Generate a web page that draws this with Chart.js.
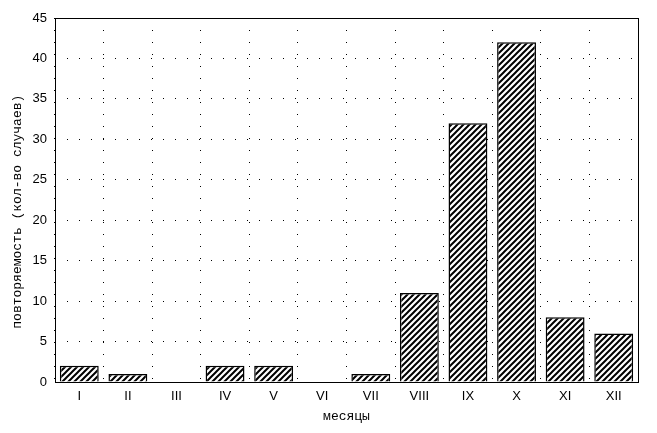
<!DOCTYPE html>
<html>
<head>
<meta charset="utf-8">
<script src="https://cdn.jsdelivr.net/npm/chart.js@4/dist/chart.umd.min.js"></script>
<style>
  html, body { margin: 0; padding: 0; background: #fff; }
  #wrap { width: 657px; height: 433px; }
</style>
</head>
<body>
<div id="wrap"><canvas id="myChart"></canvas></div>
<script>
// months (roman numerals) and number of cases
var months = ['I','II','III','IV','V','VI','VII','VIII','IX','X','XI','XII']
var cases = [2, 1, 0, 2, 2, 0, 1, 11, 32, 42, 8, 6]
var yTicks = [0, 5, 10, 15, 20, 25, 30, 35, 40, 45]
var xTitle = 'месяцы'
// trailing spaces push the rotated text a bit lower, as in the picture
var yTitle = 'повторяемость (кол-во случаев)   '

// diagonal hatch fill like the old statistica bars
function hatch(){
    var c = document.createElement('canvas')
    c.width = 6
    c.height = 6
    var g = c.getContext('2d')
    g.fillStyle = '#fff'
    g.fillRect(0, 0, 6, 6)
    g.strokeStyle = '#000'
    g.lineWidth = 2
    g.beginPath()
    g.moveTo(-1, 7); g.lineTo(7, -1)
    g.moveTo(-4, 4); g.lineTo(4, -4)
    g.moveTo(2, 10); g.lineTo(10, 2)
    g.stroke()
    return g.createPattern(c, 'repeat')
}

// frame round the plot area
var frame = {
    id: 'frame',
    afterDraw(chart){
        var a = chart.chartArea
        var ctx = chart.ctx
        ctx.save()
        ctx.strokeStyle = '#000'
        ctx.lineWidth = 1
        ctx.strokeRect(Math.round(a.left) + 0.5, Math.round(a.top) + 0.5, Math.round(a.right - a.left), Math.round(a.bottom - a.top))
        ctx.restore()
    }
}

var tickFont = { family: "'Liberation Sans Narrow', 'Liberation Sans', Arial", size: 13 }
var titleFont = { family: "'Liberation Mono', 'DejaVu Sans Mono', monospace", size: 13 }

var ctx = document.getElementById('myChart')
var myChart = new Chart(ctx, {
    type: 'bar',
    data: {
        labels: months,
        datasets: [{
            data: cases,
            backgroundColor: hatch(),
            borderColor: '#000',
            borderWidth: 1.5,
            categoryPercentage: 1,
            barPercentage: 0.8
        }]
    },
    options: {
        responsive: true,
        maintainAspectRatio: false,
        animation: false,
        layout: { padding: { top: 18, right: 19, left: 0, bottom: 0 } },
        plugins: {
            legend: { display: false },
            tooltip: { enabled: false }
        },
        scales: {
            x: {
                afterFit: function(s){ s.height = 51 },
                grid: { color: '#000', lineWidth: 1, drawTicks: false, offset: true },
                border: { display: false, dash: [1, 11] },
                ticks: { color: '#000', font: tickFont, padding: 7 },
                title: { display: true, text: xTitle, color: '#000', font: titleFont, padding: { top: 0, bottom: 9 } }
            },
            y: {
                min: 0,
                max: 45,
                afterFit: function(s){ s.width = 55 },
                afterBuildTicks: function(s){ s.ticks = yTicks.map(function(v){ return { value: v } }) },
                grid: { color: '#000', lineWidth: 1, drawTicks: false },
                border: { display: false, dash: [1, 11] },
                ticks: { color: '#000', font: tickFont, padding: 8 },
                title: { display: true, text: yTitle, color: '#000', font: titleFont, padding: { top: 10, bottom: 0 } }
            }
        }
    },
    plugins: [frame]
});
</script>
</body>
</html>
